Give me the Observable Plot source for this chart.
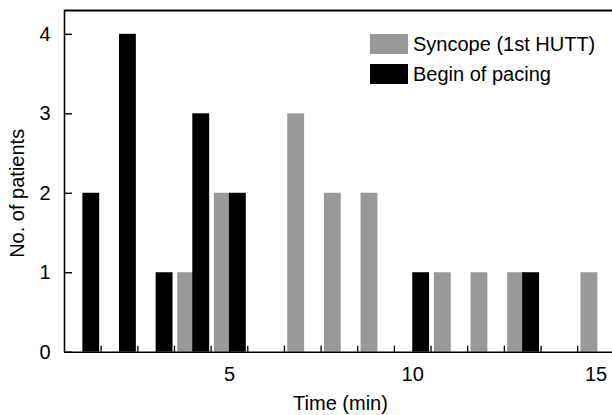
<!DOCTYPE html>
<html>
<head>
<meta charset="utf-8">
<script src="https://cdn.jsdelivr.net/npm/d3@7"></script>
<script src="https://cdn.jsdelivr.net/npm/@observablehq/plot@0.6"></script>
<style>
  body { margin: 0; background: #fff; }
  #wrap { position: relative; width: 612px; height: 415px; overflow: hidden; font-family: "Liberation Sans", Arial, sans-serif; }
  #legend { position: absolute; left: 370px; top: 34px; }
  .row { display: flex; align-items: flex-start; height: 30px; }
  .sw { width: 38px; height: 20px; }
  .lab { margin-left: 5px; font-size: 20px; line-height: 20px; color: #000; white-space: nowrap; }
</style>
</head>
<body>
<div id="wrap"></div>
<script>
// ---- data ----
const syncopeTimes  = [4, 5, 7, 8, 9, 11, 12, 13, 15];
const syncopeCounts = [1, 2, 3, 2, 2, 1, 1, 1, 1];
const pacingTimes   = [1, 2, 3, 4, 5, 10, 13];
const pacingCounts  = [2, 4, 1, 3, 2, 1, 1];
const xTickLabels   = [5, 10, 15];
const xMinorTicks   = [1.5, 2.5, 3.5, 4.5, 5.5, 6.5, 7.5, 8.5, 9.5, 10.5, 11.5, 12.5, 13.5, 14.5];
const yTickLabels   = [0, 1, 2, 3, 4];
const seriesNames   = ["Syncope (1st HUTT)", "Begin of pacing"];
const seriesColors  = ["#999999", "#000000"];
const xTitle = "Time (min)";
const yTitle = "No. of patients";

const syncope = syncopeTimes.map((t, i) => ({t, n: syncopeCounts[i]}));
const pacing  = pacingTimes.map((t, i) => ({t, n: pacingCounts[i]}));

const font = '"Liberation Sans", Arial, sans-serif';

const chart = Plot.plot({
  width: 612,
  height: 415,
  marginLeft: 64,
  marginRight: 0,
  marginTop: 10,
  marginBottom: 63.3,
  style: {fontFamily: font, fontSize: "20px", color: "#000", background: "#fff"},
  x: {domain: [0.5, 15.45]},
  y: {domain: [0, 4.3]},
  marks: [
    Plot.rectY(syncope, {x1: d => d.t - 0.41, x2: d => d.t + 0.05, y1: 0, y2: "n", fill: seriesColors[0]}),
    Plot.rectY(pacing,  {x1: d => d.t,        x2: d => d.t + 0.46, y1: 0, y2: "n", fill: seriesColors[1]}),
    // minor (bin-edge) ticks pointing inward
    Plot.axisX({ticks: xMinorTicks, tickSize: -6, tickFormat: () => "", strokeWidth: 1.3, label: null}),
    // labelled ticks
    Plot.axisX({ticks: xTickLabels, tickSize: 0, tickPadding: 15, tickFormat: "d", fontSize: 20, label: null}),
    Plot.axisY({ticks: yTickLabels, tickSize: -8, tickFormat: () => "", strokeWidth: 1.4, label: null}),
    Plot.axisY({ticks: yTickLabels, tickSize: 0, tickPadding: 14, tickFormat: "d", fontSize: 20, label: null}),
    // frame (open on right)
    Plot.ruleY([0], {stroke: "#000", strokeWidth: 1.6}),
    Plot.ruleY([4.3], {stroke: "#000", strokeWidth: 2}),
    Plot.ruleX([0.5], {stroke: "#000", strokeWidth: 1.6}),
    // axis titles
    Plot.text([xTitle], {text: d => d, frameAnchor: "bottom", lineAnchor: "middle", textAnchor: "middle", dy: 51, dx: 2, fontSize: 20, fill: "#000"}),
    Plot.text([yTitle], {text: d => d, frameAnchor: "left", rotate: -90, textAnchor: "middle", lineAnchor: "middle", dx: -47, dy: 12, fontSize: 20, fill: "#000"})
  ]
});

const wrap = document.getElementById("wrap");
wrap.appendChild(chart);

const legend = document.createElement("div");
legend.id = "legend";
seriesNames.forEach((name, i) => {
  const row = document.createElement("div");
  row.className = "row";
  const sw = document.createElement("div");
  sw.className = "sw";
  sw.style.background = seriesColors[i];
  const lab = document.createElement("div");
  lab.className = "lab";
  lab.textContent = name;
  row.appendChild(sw);
  row.appendChild(lab);
  legend.appendChild(row);
});
wrap.appendChild(legend);
</script>
</body>
</html>
